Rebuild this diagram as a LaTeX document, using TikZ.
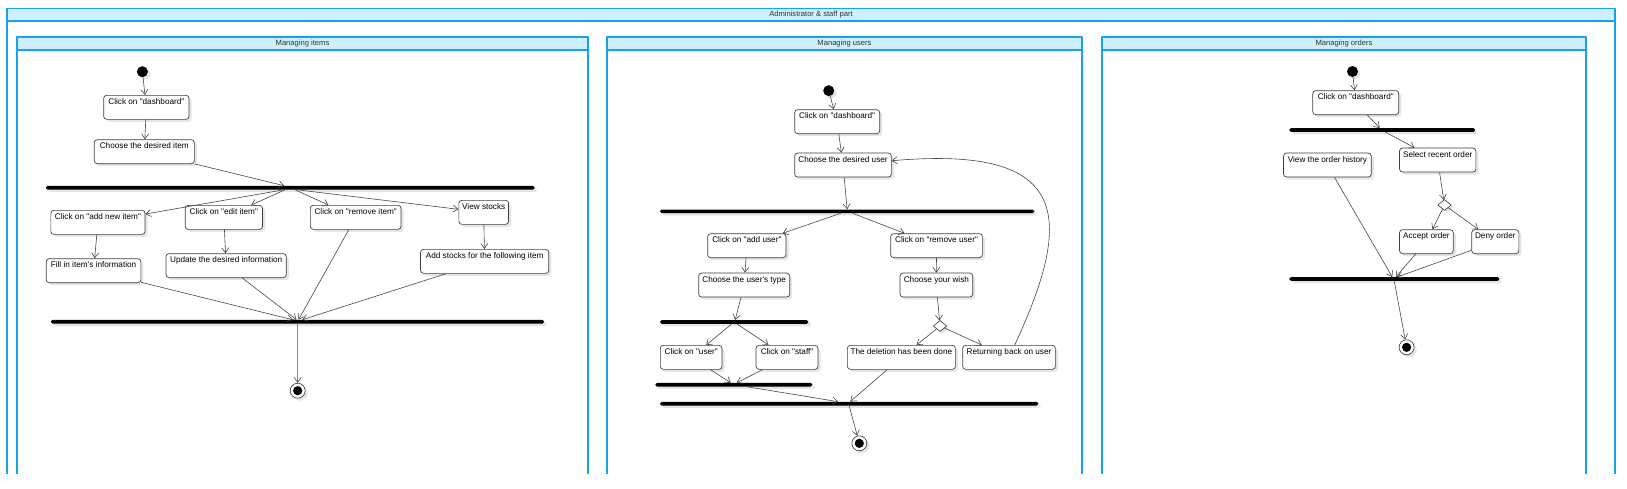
\documentclass[tikz,border=0pt]{standalone}
\usepackage{fontspec}
\setmainfont{Liberation Sans}[Ligatures=TeXReset]
\usepackage{xcolor}
\usetikzlibrary{arrows.meta,shapes.geometric,shadows}
\definecolor{FrameBlue}{RGB}{22,163,236}
\definecolor{HeadFill}{RGB}{206,239,255}
\begin{document}
\begin{tikzpicture}[x=1pt, y=-1pt, line join=round,
        flow/.style={draw=black!72, line width=0.6pt, -{Straight Barb[length=5pt,width=7pt]}},
        swimframe/.style={draw=FrameBlue, line width=1.4pt},
        softshadow/.style={drop shadow={shadow xshift=2.5pt, shadow yshift=-2.5pt, fill=black!10, opacity=1}},
        every node/.append style={font=\fontsize{8.2}{9}\selectfont}]
      \tikzstyle{act} = [draw=black!75, fill=white, rounded corners=3pt, line width=0.7pt, anchor=north west,
                         inner xsep=3pt, inner ysep=3pt, text height=6pt, text depth=12pt, softshadow]
      \tikzstyle{syncbar} = [fill=black, inner sep=0pt, minimum height=3.6pt, rounded corners=1.6pt, softshadow]
      \tikzstyle{startdot} = [circle, fill=black, inner sep=0pt, minimum size=11pt, softshadow]
      \tikzstyle{enddot} = [circle, draw=black!80, fill=white, inner sep=0pt, minimum size=15pt, line width=0.6pt, softshadow,
                            path picture={\fill[black] (path picture bounding box.center) circle (4.6pt);}]
      \tikzstyle{decision} = [diamond, draw=black!80, fill=white, inner sep=0pt, minimum width=13.5pt, minimum height=11pt,
                              line width=0.6pt, softshadow]
      \tikzstyle{headlabel} = [font=\fontsize{7.6}{9}\selectfont, text=black!80, inner sep=0pt]
      \useasboundingbox (0,0) rectangle (1627,488);
      % frames
      \fill[HeadFill] (7,8.5) rectangle (1615,21);
      \draw[swimframe] (7,473.5) -- (7,8.5) -- (1615,8.5) -- (1615,473.5);
      \draw[swimframe] (7,21) -- (1615,21);
      \node (admin) [headlabel] at (811,14.7) {Administrator \& staff part};
      \fill[HeadFill] (17,37) rectangle (588,50);
      \draw[swimframe] (17,473.5) -- (17,37) -- (588,37) -- (588,473.5);
      \draw[swimframe] (17,50) -- (588,50);
      \node (itemshead) [headlabel] at (302.5,43.6) {Managing items};
      \fill[HeadFill] (607,37) rectangle (1082,50);
      \draw[swimframe] (607,473.5) -- (607,37) -- (1082,37) -- (1082,473.5);
      \draw[swimframe] (607,50) -- (1082,50);
      \node (usershead) [headlabel] at (844.5,43.6) {Managing users};
      \fill[HeadFill] (1102,37) rectangle (1586,50);
      \draw[swimframe] (1102,473.5) -- (1102,37) -- (1586,37) -- (1586,473.5);
      \draw[swimframe] (1102,50) -- (1586,50);
      \node (ordershead) [headlabel] at (1344,43.6) {Managing orders};

      % managing items
      \node (start1) [startdot] at (142.4,71.7) {};
      \node (dash1) [act, minimum width=85.4pt] at (103.3,95) {Click on "dashboard"};
      \node (item1) [act, minimum width=100.2pt] at (93.8,139.3) {Choose the desired item};
      \node (fork1) [syncbar, minimum width=488.7pt] at (290.25,187.7) {};
      \node (addnew) [act, minimum width=94.2pt] at (50.5,210) {Click on "add new item"};
      \node (edit) [act, minimum width=77.4pt] at (184.8,205) {Click on "edit item"};
      \node (remove) [act, minimum width=90.7pt] at (310,205) {Click on "remove item"};
      \node (stocks) [act, minimum width=49.7pt] at (458.5,200) {View stocks};
      \node (fill) [act, minimum width=94.6pt] at (45.9,258.3) {Fill in item's information};
      \node (update) [act, minimum width=120.2pt] at (165.7,253.3) {Update the desired information};
      \node (addstock) [act, minimum width=128.2pt] at (420.2,249) {Add stocks for the following item};
      \node (join1) [syncbar, minimum width=493.3pt] at (297.55,321.7) {};
      \node (end1) [enddot] at (297.7,390.7) {};
      \draw[flow] (start1) -- (dash1);
      \draw[flow] (dash1) -- (item1);
      \draw[flow] (item1) -- ([xshift=-6.2pt]fork1.north);
      \draw[flow] ([xshift=-6pt]fork1.south) -- (addnew);
      \draw[flow] ([xshift=-5pt]fork1.south) -- (edit);
      \draw[flow] ([xshift=4.5pt]fork1.south) -- (remove);
      \draw[flow] ([xshift=6.4pt]fork1.south) -- (stocks);
      \draw[flow] (addnew) -- (fill);
      \draw[flow] (edit) -- (update);
      \draw[flow] (stocks) -- (addstock);
      \draw[flow] (fill) -- ([xshift=-4.8pt]join1.north);
      \draw[flow] (update) -- ([xshift=-1pt]join1.north);
      \draw[flow] (remove) -- ([xshift=1pt]join1.north);
      \draw[flow] (addstock) -- ([xshift=4.8pt]join1.north);
      \draw[flow] (join1.south) -- (end1);

      % managing users
      \node (start2) [startdot] at (828.7,90.7) {};
      \node (dash2) [act, minimum width=85pt] at (794.3,109.3) {Click on "dashboard"};
      \node (user2) [act, minimum width=96.7pt] at (794.3,152.7) {Choose the desired user};
      \node (fork2) [syncbar, minimum width=374.3pt] at (847.15,211.3) {};
      \node (adduser) [act, minimum width=78.4pt] at (707.3,233.3) {Click on "add user"};
      \node (removeuser) [act, minimum width=91.7pt] at (890.3,233.3) {Click on "remove user"};
      \node (type) [act, minimum width=91pt] at (698.3,272.7) {Choose the user's type};
      \node (wish) [act, minimum width=72.6pt] at (899.7,272.7) {Choose your wish};
      \node (fork3) [syncbar, minimum width=148.3pt] at (734.15,322) {};
      \node (dec2) [decision] at (940,326) {};
      \node (usr) [act, minimum width=61.7pt] at (660,345) {Click on "user"};
      \node (staff) [act, minimum width=62pt] at (755.7,345) {Click on "staff"};
      \node (deleted) [act, minimum width=108pt] at (847,345) {The deletion has been done};
      \node (back) [act, minimum width=92.7pt] at (962.3,345) {Returning back on user};
      \node (join2) [syncbar, minimum width=157pt] at (733.8,384.7) {};
      \node (join3) [syncbar, minimum width=378.3pt] at (849.15,403.7) {};
      \node (end2) [enddot] at (859.3,443.3) {};
      \draw[flow] (start2) -- (dash2);
      \draw[flow] (dash2) -- (user2);
      \draw[flow] (user2) -- (fork2.north);
      \draw[flow] ([xshift=-6.5pt]fork2.south) -- (adduser);
      \draw[flow] ([xshift=5.5pt]fork2.south) -- (removeuser);
      \draw[flow] (adduser) -- (type);
      \draw[flow] (removeuser) -- (wish);
      \draw[flow] (type) -- ([xshift=1pt]fork3.north);
      \draw[flow] ([xshift=-2.5pt]fork3.south) -- (usr);
      \draw[flow] ([xshift=3pt]fork3.south) -- (staff);
      \draw[flow] (usr) -- ([xshift=-3pt]join2.north);
      \draw[flow] (staff) -- ([xshift=3pt]join2.north);
      \draw[flow] ([xshift=13pt]join2.south) -- ([xshift=-11pt]join3.north);
      \draw[flow] (wish) -- (dec2);
      \draw[flow] (dec2) -- (deleted);
      \draw[flow] (dec2) -- (back);
      \draw[flow] (back) .. controls (1075,215) and (1070,145) .. (user2);
      \draw[flow] (deleted) -- ([xshift=1pt]join3.north);
      \draw[flow] (join3.south) -- (end2);

      % managing orders
      \node (start3) [startdot] at (1352.5,71.5) {};
      \node (dash3) [act, minimum width=86pt] at (1312.4,90.3) {Click on "dashboard"};
      \node (fork4) [syncbar, minimum width=185.9pt] at (1382.15,130) {};
      \node (history) [act, minimum width=87.7pt] at (1283.2,152.7) {View the order history};
      \node (select) [act, minimum width=76.3pt] at (1399.2,147.7) {Select recent order};
      \node (dec3) [decision] at (1444.5,205) {};
      \node (accept) [act, minimum width=53.7pt] at (1399.2,229.3) {Accept order};
      \node (deny) [act, minimum width=47.1pt] at (1471.4,229.3) {Deny order};
      \node (join4) [syncbar, minimum width=210.1pt] at (1394.25,279) {};
      \node (end3) [enddot] at (1406.6,347.3) {};
      \draw[flow] (start3) -- (dash3);
      \draw[flow] (dash3) -- ([xshift=-2.5pt]fork4.north);
      \draw[flow] ([xshift=3pt]fork4.south) -- (select);
      \draw[flow] (select) -- (dec3);
      \draw[flow] (dec3) -- (accept);
      \draw[flow] (dec3) -- (deny);
      \draw[flow] (history) -- ([xshift=-2pt]join4.north);
      \draw[flow] (accept) -- ([xshift=1.5pt]join4.north);
      \draw[flow] (deny) -- ([xshift=3pt]join4.north);
      \draw[flow] (join4.south) -- (end3);
\end{tikzpicture}
\end{document}
